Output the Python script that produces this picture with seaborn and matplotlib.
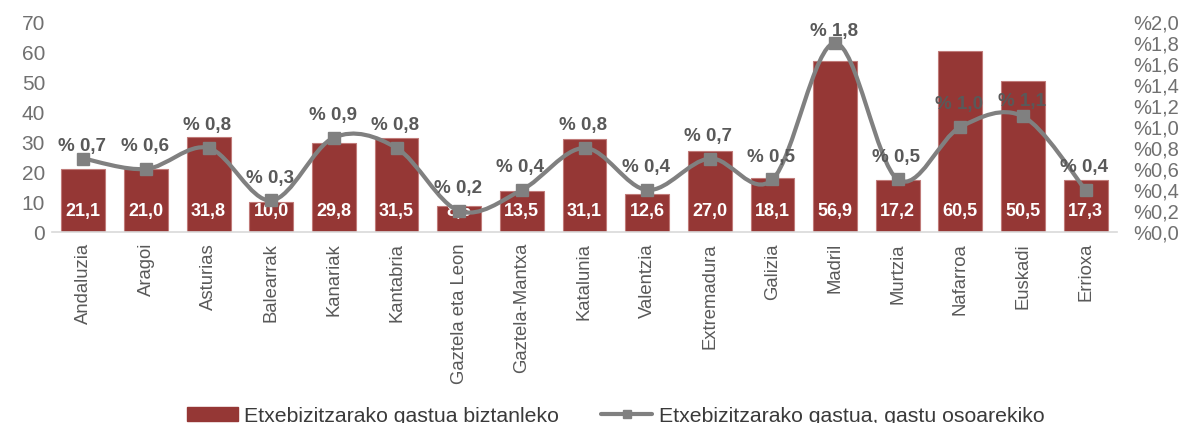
import numpy as np
import pandas as pd
import matplotlib
matplotlib.use('Agg')
import matplotlib.pyplot as plt
from matplotlib.path import Path
from matplotlib.patches import PathPatch, Patch
from matplotlib.lines import Line2D
import seaborn as sns

# Data
regions = ['Andaluzia', 'Aragoi', 'Asturias', 'Balearrak', 'Kanariak', 'Kantabria',
           'Gaztela eta Leon', 'Gaztela-Mantxa', 'Katalunia', 'Valentzia', 'Extremadura',
           'Galizia', 'Madril', 'Murtzia', 'Nafarroa', 'Euskadi', 'Errioxa']
per_capita = [21.1, 21.0, 31.8, 10.0, 29.8, 31.5, 8.6, 13.5, 31.1, 12.6, 27.0,
              18.1, 56.9, 17.2, 60.5, 50.5, 17.3]
share_pct = [0.7, 0.6, 0.8, 0.3, 0.9, 0.8, 0.2, 0.4, 0.8, 0.4, 0.7,
             0.5, 1.8, 0.5, 1.0, 1.1, 0.4]

bar_label = 'Etxebizitzarako gastua biztanleko'
line_label = 'Etxebizitzarako gastua, gastu osoarekiko'

df = pd.DataFrame({'region': regions, 'value': per_capita, 'share': share_pct})

bar_color = '#953735'
line_color = '#808080'
text_gray = '#595959'
tick_gray = '#707070'

# a few line labels sit closer to their marker in the original
label_lift = {'Andaluzia': 2.5, 'Madril': 2.5, 'Euskadi': 5}

sns.set_style('white')
plt.rcParams['font.family'] = ['Liberation Sans', 'DejaVu Sans']

fig = plt.figure(figsize=(11.86, 4.23), dpi=100)
ax = fig.add_axes([52 / 1186, 1 - 232 / 423, 1065 / 1186, 210 / 423])

sns.barplot(data=df, x='region', y='value', color=bar_color, width=0.7,
            edgecolor='#c07b79', linewidth=0.8, saturation=1, ax=ax)
ax.set_xlim(-0.5, len(regions) - 0.5)
ax.set_ylim(0, 70)
ax.set_yticks(range(0, 71, 10))
ax.set_xlabel('')
ax.set_ylabel('')
ax.tick_params(axis='y', labelsize=15, colors=tick_gray, length=0, pad=5)
ax.tick_params(axis='x', labelsize=13.3, colors=text_gray, length=0, pad=8)
plt.setp(ax.get_xticklabels(), rotation=90)
# tick marks between categories
ax.set_xticks(np.arange(-0.5, len(regions) - 0.4, 1), minor=True)
ax.tick_params(axis='x', which='minor', length=5, color='#d9d9d9', width=1.2)
for side in ['top', 'left', 'right']:
    ax.spines[side].set_visible(False)
ax.spines['bottom'].set_color('#d9d9d9')
ax.spines['bottom'].set_linewidth(1.2)

for i, v in enumerate(per_capita):
    ax.text(i, 7, f'{v:.1f}'.replace('.', ','), ha='center', va='center',
            color='white', fontsize=13, fontweight='bold')

# secondary axis with smoothed line
ax2 = ax.twinx()
ax2.set_ylim(0, 2.0)
ax2.set_yticks(np.arange(0, 2.01, 0.2))
ax2.set_yticklabels([f'%{t:.1f}'.replace('.', ',') for t in np.arange(0, 2.01, 0.2)])
ax2.tick_params(axis='y', labelsize=14.5, colors=tick_gray, length=0, pad=12)
for side in ['top', 'left', 'right', 'bottom']:
    ax2.spines[side].set_visible(False)

xs = np.arange(len(share_pct), dtype=float)
ys = np.array(share_pct, dtype=float)
verts = [(xs[0], ys[0])]
codes = [Path.MOVETO]
n = len(xs)
for i in range(n - 1):
    p0 = np.array([xs[max(i - 1, 0)], ys[max(i - 1, 0)]])
    p1 = np.array([xs[i], ys[i]])
    p2 = np.array([xs[i + 1], ys[i + 1]])
    p3 = np.array([xs[min(i + 2, n - 1)], ys[min(i + 2, n - 1)]])
    c1 = p1 + (p2 - p0) / 6
    c2 = p2 - (p3 - p1) / 6
    verts += [tuple(c1), tuple(c2), tuple(p2)]
    codes += [Path.CURVE4] * 3
ax2.add_patch(PathPatch(Path(verts, codes), facecolor='none',
                        edgecolor=line_color, linewidth=3, capstyle='round'))
ax2.plot(xs, ys, linestyle='none', marker='s', markersize=8, color=line_color)

for name, x, y in zip(regions, xs, ys):
    lift = label_lift.get(name, 10)
    ax2.annotate(f'% {y:.1f}'.replace('.', ','), (x, y), xytext=(-1, lift),
                 textcoords='offset points', ha='center', va='bottom',
                 color=text_gray, fontsize=13.5, fontweight='bold')

handles = [Patch(facecolor=bar_color, edgecolor=bar_color),
           Line2D([0], [0], color=line_color, linewidth=3, marker='s', markersize=6)]
fig.legend(handles, [bar_label, line_label], loc='center',
           bbox_to_anchor=(0.519, 1 - 416 / 423),
           ncol=2, frameon=False, fontsize=15.3, handlelength=2.4, handleheight=0.6,
           columnspacing=2.0, handletextpad=0.3, labelcolor='#3a3a3a')

fig.savefig('out.png', dpi=100)
